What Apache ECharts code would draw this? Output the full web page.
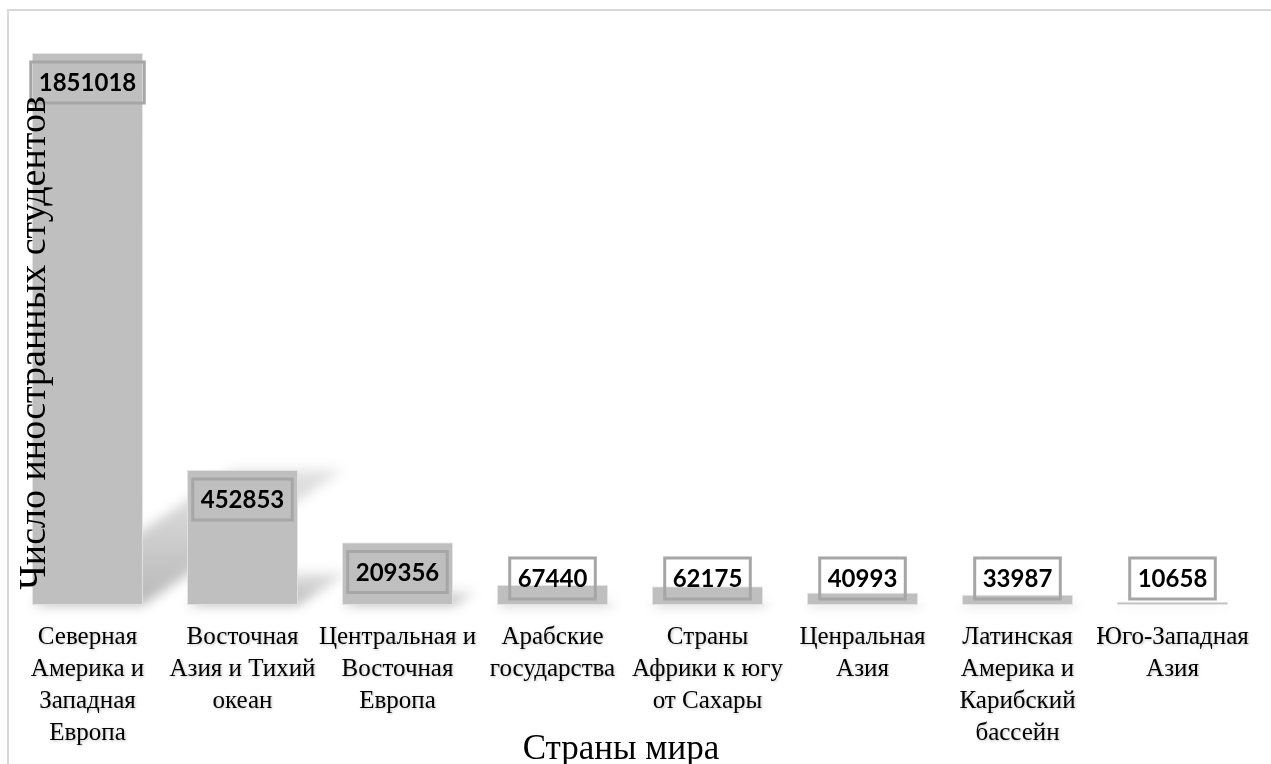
<!DOCTYPE html>
<html>
<head>
<meta charset="utf-8">
<script src="https://cdn.jsdelivr.net/npm/echarts@6/dist/echarts.min.js"></script>
<style>
html,body{margin:0;padding:0;background:#fff;}
#chart{width:1271px;height:764px;}
</style>
</head>
<body>
<div id="chart"></div>
<script>
const categories = [
  'Северная\nАмерика и\nЗападная\nЕвропа',
  'Восточная\nАзия и Тихий\nокеан',
  'Центральная и\nВосточная\nЕвропа',
  'Арабские\nгосударства',
  'Страны\nАфрики к югу\nот Сахары',
  'Ценральная\nАзия',
  'Латинская\nАмерика и\nКарибский\nбассейн',
  'Юго-Западная\nАзия'
];
const students = [1851018, 452853, 209356, 67440, 62175, 40993, 33987, 10658];
const xAxisTitle = 'Страны мира';
const yAxisTitle = 'Число иностранных студентов';

const BAR_RATIO = 0.716;
const OFF = 5000;

const barData = students.map(function (v) {
  const small = v < 150000;
  return {
    value: v,
    label: small
      ? { position: 'insideBottom', distance: 6 }
      : { position: 'insideTop', distance: 9 }
  };
});

const chart = echarts.init(document.getElementById('chart'));
chart.setOption({
  animation: false,
  backgroundColor: '#ffffff',
  graphic: [{
    type: 'rect',
    shape: { x: 8, y: 10, width: 1400, height: 900 },
    style: { fill: 'none', stroke: '#d9d9d9', lineWidth: 2 },
    z: -10, silent: true
  }],
  grid: { left: 10, right: 21, top: 53, bottom: 159, outerBoundsMode: 'none', containLabel: false },
  xAxis: {
    type: 'category',
    data: categories,
    axisLine: { show: false },
    axisTick: { show: false },
    axisLabel: {
      interval: 0,
      margin: 16,
      fontFamily: 'Liberation Serif',
      fontSize: 25,
      lineHeight: 32,
      color: '#000',
      textShadowColor: 'rgba(0,0,0,0.25)',
      textShadowBlur: 3,
      textShadowOffsetX: 1,
      textShadowOffsetY: 1
    },
    name: xAxisTitle,
    nameLocation: 'middle',
    nameMoveOverlap: false,
    nameGap: 127,
    nameTextStyle: { fontFamily: 'Liberation Serif', fontSize: 35, color: '#000', padding: [0, 18, 0, 0] }
  },
  yAxis: {
    type: 'value',
    z: 10,
    min: 0,
    max: 'dataMax',
    axisLine: { show: false },
    axisTick: { show: false },
    axisLabel: { show: false },
    splitLine: { show: false },
    name: yAxisTitle,
    nameLocation: 'middle',
    nameMoveOverlap: false,
    nameGap: -44,
    nameRotate: 90,
    nameTextStyle: { fontFamily: 'Liberation Serif', fontSize: 38, color: '#000', padding: [0, 28, 0, 0] }
  },
  series: [
    {
      type: 'custom',
      clip: false,
      z: 1,
      silent: true,
      data: students.map(function (v, i) { return [i, v]; }),
      renderItem: function (params, api) {
        const base = api.coord([api.value(0), 0]);
        const top = api.coord([api.value(0), api.value(1)]);
        const w = api.size([1, 0])[0] * BAR_RATIO;
        const h = base[1] - top[1];
        const sh = h * 0.245;
        const dx = sh * 1.48;
        const x0 = base[0] - w / 2 - OFF;
        const x1 = base[0] + w / 2 - OFF;
        const yb = base[1];
        return {
          type: 'polygon',
          shape: { points: [[x0, yb], [x1, yb], [x1 + dx, yb - sh], [x0 + dx, yb - sh]] },
          style: {
            fill: {
              type: 'linear', x: 0, y: 1, x2: 0, y2: 0,
              colorStops: [
                { offset: 0, color: 'rgba(0,0,0,1)' },
                { offset: 1, color: 'rgba(0,0,0,0.4)' }
              ]
            },
            shadowColor: 'rgba(0,0,0,0.28)',
            shadowBlur: 12,
            shadowOffsetX: OFF,
            shadowOffsetY: 0
          }
        };
      }
    },
    {
      type: 'bar',
      z: 2,
      barWidth: (BAR_RATIO * 100) + '%',
      data: barData,
      itemStyle: {
        color: '#bfbfbf',
        borderColor: 'rgba(230,230,230,0.8)',
        borderWidth: 1
      },
      label: {
        show: true,
        fontFamily: 'Lato',
        fontWeight: 'bold',
        fontSize: 24,
        lineHeight: 27,
        color: '#000',
        borderColor: '#a6a6a6',
        borderWidth: 1.5,
        padding: [8, 8, 6, 8],
        backgroundColor: 'transparent'
      }
    }
  ]
});
</script>
</body>
</html>
